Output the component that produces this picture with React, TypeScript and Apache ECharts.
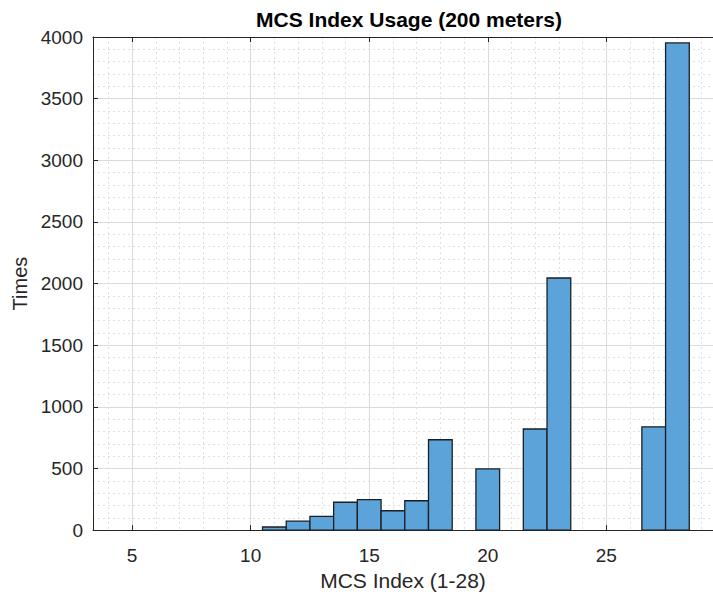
import React, { useEffect, useRef } from "react";
import * as echarts from "echarts";

const titleText = "MCS Index Usage (200 meters)";
const xName = "MCS Index (1-28)";
const yName = "Times";
const mcsIndex = [11, 12, 13, 14, 15, 16, 17, 18, 19, 20, 21, 22, 23, 24, 25, 26, 27, 28];
const counts = [25, 73, 111, 226, 248, 157, 238, 733, 0, 496, 0, 820, 2045, 0, 0, 0, 838, 3952];
const xMajorTicks = [5, 10, 15, 20, 25];
const xMinorTicks = [4, 6, 7, 8, 9, 11, 12, 13, 14, 16, 17, 18, 19, 21, 22, 23, 24, 26, 27, 28, 29];

const FONT = "'Liberation Sans', Arial, Helvetica, sans-serif";
const AX = "#262626";

export default function App() {
  const ref = useRef<HTMLDivElement>(null);
  useEffect(() => {
    if (!ref.current) return;
    const chart = echarts.init(ref.current, null, { renderer: "svg" });
    const data = mcsIndex.map((m, i) => [m, counts[i]]).filter((d) => d[1] > 0);
    chart.setOption({
      animation: false,
      backgroundColor: "#ffffff",
      title: {
        text: titleText,
        left: 404,
        textAlign: "center",
        top: 4,
        textStyle: { fontFamily: FONT, fontSize: 21, fontWeight: "bold", color: "#000" },
      },
      grid: { left: 93, top: 37, bottom: 64, right: -4, containLabel: false },
      xAxis: [
        {
          type: "value",
          min: 3.35,
          max: 29.5,
          position: "bottom",
          name: xName,
          nameLocation: "middle",
          nameGap: 36,
          nameTextStyle: { fontFamily: FONT, fontSize: 21, color: AX },
          axisLine: { show: true, onZero: false, lineStyle: { color: AX, width: 1 } },
          axisTick: { show: true, inside: true, length: 5, customValues: xMajorTicks, lineStyle: { color: AX } },
          axisLabel: { customValues: xMajorTicks, margin: 16, fontFamily: FONT, fontSize: 19, color: AX },
          splitLine: { show: true, lineStyle: { color: "#dadada", width: 1 } },
        },
        {
          type: "value",
          min: 3.35,
          max: 29.5,
          position: "top",
          axisLine: { show: true, onZero: false, lineStyle: { color: AX, width: 1 } },
          axisTick: { show: true, inside: true, length: 5, customValues: xMajorTicks, lineStyle: { color: AX } },
          axisLabel: { show: false },
          splitLine: { show: false },
        },
        {
          type: "value",
          min: 3.35,
          max: 29.5,
          position: "bottom",
          axisLine: { show: false },
          axisTick: { show: false, customValues: xMinorTicks },
          axisLabel: { show: false, customValues: xMinorTicks },
          splitLine: { show: true, lineStyle: { color: "#e0e0e0", width: 1, type: [2, 3] } },
        },
      ],
      yAxis: [
        {
          type: "value",
          min: 0,
          max: 4000,
          interval: 500,
          name: yName,
          nameLocation: "middle",
          nameGap: 60,
          nameTextStyle: { fontFamily: FONT, fontSize: 20, color: AX },
          axisLine: { show: true, lineStyle: { color: AX, width: 1 } },
          axisTick: { show: true, inside: true, length: 5, lineStyle: { color: AX } },
          axisLabel: {
            margin: 10,
            fontFamily: FONT,
            fontSize: 19,
            color: AX,
            formatter: (v: number) => String(v),
          },
          splitLine: { show: true, lineStyle: { color: "#dadada", width: 1 } },
          minorTick: { show: false, splitNumber: 5 },
          minorSplitLine: { show: true, lineStyle: { color: "#e0e0e0", width: 1, type: [2, 3] } },
        },
      ],
      series: [
        {
          type: "custom",
          xAxisIndex: 0,
          yAxisIndex: 0,
          encode: { x: 0, y: 1 },
          data,
          renderItem: (params: any, api: any) => {
            const x = api.value(0);
            const y = api.value(1);
            const p0 = api.coord([x - 0.5, 0]);
            const p1 = api.coord([x + 0.5, y]);
            return {
              type: "rect",
              shape: { x: p0[0], y: p1[1], width: p1[0] - p0[0], height: p0[1] - p1[1] },
              style: { fill: "#5ba3d9", stroke: "#1b1f24", lineWidth: 1.3 },
            };
          },
        },
      ],
    });
    return () => chart.dispose();
  }, []);
  return (
    <div
      ref={ref}
      style={{ position: "fixed", left: 0, top: 0, width: 713, height: 596, background: "#fff" }}
    />
  );
}
